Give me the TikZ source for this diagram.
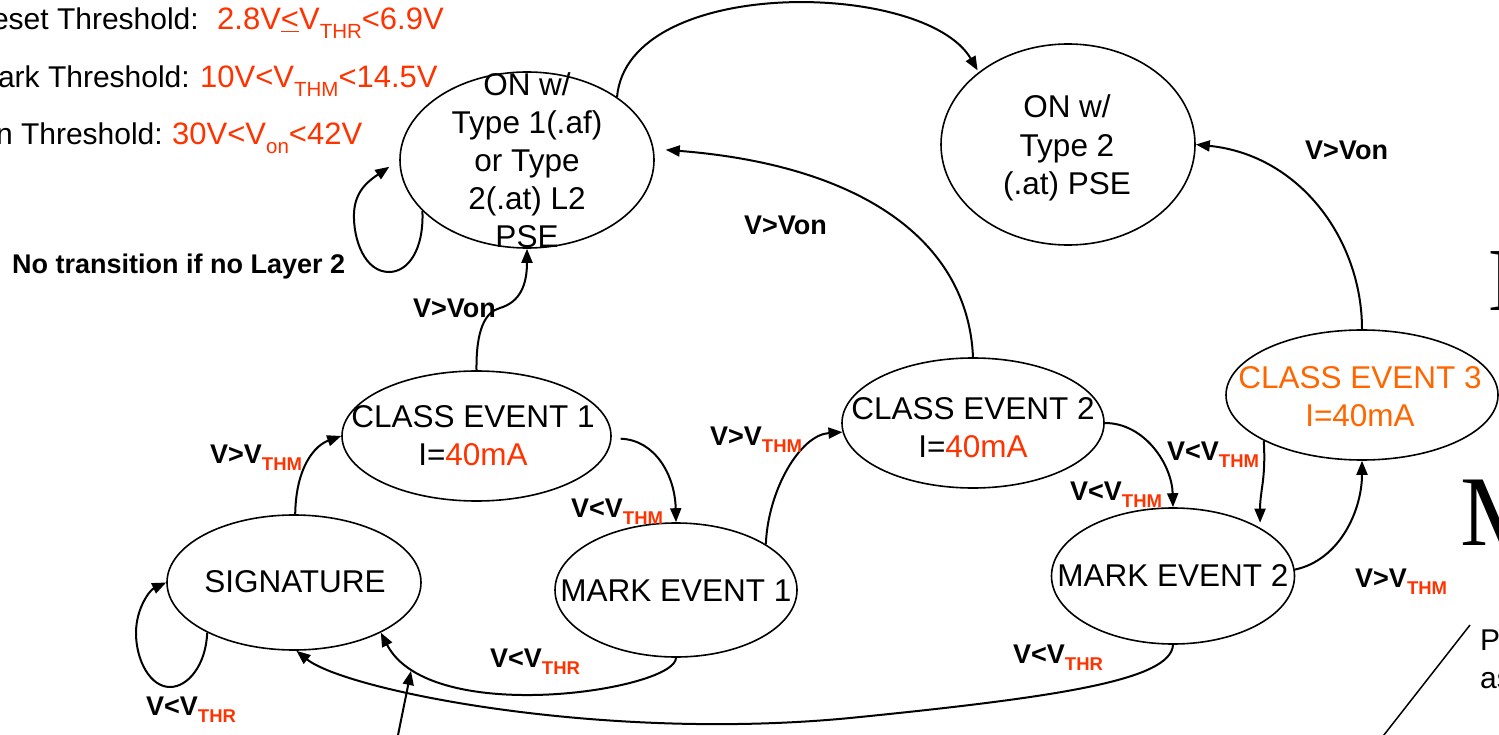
\documentclass[tikz,border=0pt]{standalone}
\usepackage{fontspec}
\setmainfont{Liberation Sans}
\newfontfamily\serifM{Liberation Serif}
\usetikzlibrary{arrows.meta,shapes.geometric}
\definecolor{vred}{HTML}{FF3300}
\definecolor{vorange}{HTML}{FF6600}
\newcommand{\sublab}[2]{#1\raisebox{-7pt}{\fontsize{18.5pt}{18.5pt}\selectfont\color{vred}#2}}
\newcommand{\subtop}[1]{\raisebox{-9pt}{\fontsize{20.5pt}{20.5pt}\selectfont #1}}
\begin{document}
\begin{tikzpicture}[x=1pt,y=-1pt,
  stt/.style={ellipse,draw,line width=1.6pt,inner sep=0pt},
  stext/.style={align=center,inner sep=0pt,font=\fontsize{31.5pt}{38pt}\selectfont},
  elab/.style={anchor=base west,inner sep=0pt,font=\bfseries\fontsize{27pt}{30pt}\selectfont},
  ttl/.style={inner sep=0pt,font=\fontsize{30pt}{36pt}\selectfont},
  ttr/.style={inner sep=0pt,text=vred,font=\fontsize{31pt}{36pt}\selectfont},
  conn/.style={line width=2pt,-{Triangle[length=14pt,width=11pt]}},
  plain/.style={line width=1.5pt}
]
\useasboundingbox (0,0) rectangle (1499,735);
\clip (0,0) rectangle (1499,735);

% threshold legend
\node[ttl,anchor=base east] (r1a) at (199,30) {Reset Threshold:};
\node[ttr,anchor=base west] (r1b) at (217,30) {2.8V\underline{<}V\subtop{THR}<6.9V};
\node[ttl,anchor=base east] (r2a) at (190,88) {Mark Threshold:};
\node[ttr,anchor=base west] (r2b) at (200,88) {10V<V\subtop{THM}<14.5V};
\node[ttl,anchor=base east] (r3a) at (163,145) {On Threshold:};
\node[ttr,anchor=base west] (r3b) at (172,145) {30V<V\subtop{on}<42V};

% states (ellipses)
\node[stt,minimum width=254pt,minimum height=176pt] (on1) at (527,160) {};
\node[stt,minimum width=254pt,minimum height=201pt] (on2) at (1068,144.5) {};
\node[stt,minimum width=269pt,minimum height=130pt] (ce1) at (476.5,436) {};
\node[stt,minimum width=262pt,minimum height=130pt] (ce2) at (973,423) {};
\node[stt,minimum width=272pt,minimum height=130pt] (ce3) at (1362,395) {};
\node[stt,minimum width=254pt,minimum height=135pt] (sig) at (294,582.5) {};
\node[stt,minimum width=242pt,minimum height=134pt] (me1) at (676,590) {};
\node[stt,minimum width=243pt,minimum height=136pt] (me2) at (1173,576) {};

% state texts
\node[stext] (on1t) at (527,160) {ON w/\\Type 1(.af)\\or Type\\2(.at) L2\\PSE};
\node[stext,font=\fontsize{31.5pt}{38.5pt}\selectfont] (on2t) at (1067,148) {ON w/\\Type 2\\(.at) PSE};
\node[stext] (ce1t) at (473,436) {CLASS EVENT 1\\I=\textcolor{vred}{40mA}};
\node[stext] (ce2t) at (973,428) {CLASS EVENT 2\\I=\textcolor{vred}{40mA}};
\node[stext,text=vorange] (ce3t) at (1360,396.5) {CLASS EVENT 3\\I=40mA};
\node[stext] (sigt) at (295,582) {SIGNATURE};
\node[stext] (me1t) at (676,591) {MARK EVENT 1};
\node[stext] (me2t) at (1173,575) {MARK EVENT 2};

% connectors
\draw[conn,shorten >=2pt] (on1.35) .. controls (628,-25) and (925,-20) .. (on2.141);
\draw[conn,shorten >=12pt] (on1.206) .. controls (424,250) and (408,272) .. (389,272)
  .. controls (365,272) and (353,240) .. (354,213)
  .. controls (355,190) and (370,180) .. (on1.180);
\draw[conn] (ce1.90) .. controls (476,330) and (485,312) .. (500,308)
  .. controls (520,302) and (527,285) .. (on1.270);
\draw[conn,shorten >=12pt] (ce2.90) .. controls (968,240) and (860,165) .. (on1.5);
\draw[conn] (ce3.90) .. controls (1362,240) and (1300,155) .. (on2.0);
\draw[conn] (sig.89) .. controls (296,465) and (316,445) .. (ce1.180);
\draw[conn,shorten <=9pt] (ce1.-1) .. controls (655,440) and (675,475) .. (me1.90);
\draw[conn] (me1.27) .. controls (768,490) and (800,435) .. (ce2.184);
\draw[conn] (ce2.0) .. controls (1145,423) and (1172,465) .. (me2.90);
\draw[conn,shorten >=5pt] (ce3.205) .. controls (1266,480) and (1260,490) .. (me2.29);
\draw[conn] (me2.3) .. controls (1340,560) and (1362,510) .. (ce3.270);
\draw[conn] (me1.270) .. controls (676,690) and (430,728) .. (sig.-30);
\draw[conn] (me2.270) .. controls (1171,680) and (1060,697) .. (850,718)
  .. controls (600,742) and (345,690) .. (sig.272);
\draw[conn] (sig.210) .. controls (206,665) and (188,687) .. (170,687)
  .. controls (150,687) and (136,660) .. (136,633)
  .. controls (136,608) and (150,590) .. (sig.180);
\coordinate (pt0) at (396,745);
\coordinate (pt1) at (411,671);
\draw[conn] (pt0) -- (pt1);

% edge labels
\node[elab] (l1) at (210,463) {\sublab{V>V}{THM}};
\node[elab] (l2) at (571,517) {\sublab{V<V}{THM}};
\node[elab] (l3) at (710,445) {\sublab{V>V}{THM}};
\node[elab] (l4) at (1167,460) {\sublab{V<V}{THM}};
\node[elab] (l5) at (1070,500) {\sublab{V<V}{THM}};
\node[elab] (l6) at (1355,587) {\sublab{V>V}{THM}};
\node[elab] (l7) at (490,667) {\sublab{V<V}{THR}};
\node[elab] (l8) at (146,715) {\sublab{V<V}{THR}};
\node[elab] (l9) at (1013,663) {\sublab{V<V}{THR}};
\node[elab] (l10) at (413,318) {V>Von};
\node[elab] (l11) at (744,235) {V>Von};
\node[elab] (l12) at (1305,160) {V>Von};
\node[elab] (l13) at (12,274) {No transition if no Layer 2};

% fragments at the right edge
\node[anchor=base west,inner sep=0pt,font=\serifM\fontsize{100pt}{100pt}\selectfont] (mfrag) at (1460,545) {M};
\node[anchor=base west,inner sep=0pt,font=\serifM\fontsize{90pt}{90pt}\selectfont] (dfrag) at (1488,310) {D};
\node[ttl,anchor=base west] (pfrag) at (1480,650) {P};
\node[ttl,anchor=base west] (asfrag) at (1480,688) {as};
\coordinate (dg1) at (1470,625);
\coordinate (dg2) at (1380,740);
\draw[plain] (dg1) -- (dg2);
\end{tikzpicture}
\end{document}
